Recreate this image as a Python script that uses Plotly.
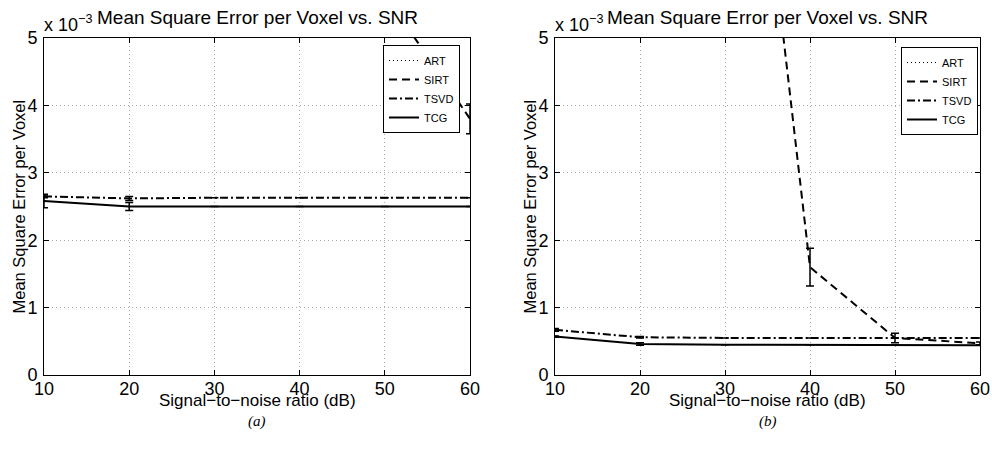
import plotly.graph_objects as go

# Signal-to-noise ratio (dB)
snr = [10, 20, 30, 40, 50, 60]

# Mean square error per voxel, in units of 1e-3
# (a)
art_a = [30.0, 26.0, 23.0, 21.0, 20.0, 19.0]
sirt_a = [15.0, 11.0, 8.5, 7.0, 5.65, 3.8]
tsvd_a = [2.65, 2.62, 2.63, 2.63, 2.63, 2.63]
tcg_a = [2.58, 2.50, 2.50, 2.50, 2.50, 2.50]
art_a_err = [0, 0, 0, 0, 0, 0]
sirt_a_err = [0, 0, 0, 0, 0, 0.22]
tsvd_a_err = [0.02, 0.03, 0, 0, 0, 0]
tcg_a_err = [0.1, 0.06, 0, 0, 0, 0]

# (b)
art_b = [30.0, 26.0, 23.0, 21.0, 20.0, 19.0]
sirt_b = [20.0, 16.0, 12.5, 1.6, 0.55, 0.47]
tsvd_b = [0.67, 0.56, 0.55, 0.55, 0.55, 0.55]
tcg_b = [0.57, 0.46, 0.45, 0.45, 0.44, 0.44]
art_b_err = [0, 0, 0, 0, 0, 0]
sirt_b_err = [0, 0, 0, 0.28, 0.07, 0.02]
tsvd_b_err = [0.02, 0.01, 0, 0, 0, 0]
tcg_b_err = [0.01, 0.02, 0, 0, 0, 0]

names = ["ART", "SIRT", "TSVD", "TCG"]
dashes = ["1px,3px", "8px,5px", "8px,3px,2px,3px", "solid"]
widths = [1.2, 2, 2, 2]

x_ticks = [10, 20, 30, 40, 50, 60]
y_ticks = [0, 1, 2, 3, 4, 5]

title_text = "Mean Square Error per Voxel vs. SNR"
xlabel = "Signal\u2212to\u2212noise ratio (dB)"
ylabel = "Mean Square Error per Voxel"

W, H = 992, 458
FONT = "Liberation Sans, Arial, sans-serif"

fig = go.Figure()

series_a = [(art_a, art_a_err), (sirt_a, sirt_a_err), (tsvd_a, tsvd_a_err), (tcg_a, tcg_a_err)]
series_b = [(art_b, art_b_err), (sirt_b, sirt_b_err), (tsvd_b, tsvd_b_err), (tcg_b, tcg_b_err)]

for series, xa, ya, lg in [(series_a, "x", "y", "legend"), (series_b, "x2", "y2", "legend2")]:
    for name, dash, lw, (vals, err) in zip(names, dashes, widths, series):
        fig.add_trace(go.Scatter(
            x=snr, y=vals, name=name, mode="lines",
            line=dict(color="black", width=lw, dash=dash),
            error_y=dict(type="data", array=err, visible=True, color="black",
                         thickness=1.5, width=4),
            xaxis=xa, yaxis=ya, legend=lg,
        ))

x1 = [44 / W, 470 / W]
x2 = [555 / W, 980 / W]
yd = [1 - 375 / H, 1 - 38 / H]

axis_common = dict(
    showline=True, linecolor="black", linewidth=1, mirror="ticks",
    ticks="inside", ticklen=5, tickcolor="black", tickwidth=1,
    showgrid=True, gridcolor="#a8a8a8", griddash="1px,3px", gridwidth=1,
    zeroline=False, tickfont=dict(family=FONT, size=18, color="black"),
)

fig.update_layout(
    width=W, height=H, template="none",
    paper_bgcolor="white", plot_bgcolor="white",
    margin=dict(l=0, r=0, t=0, b=0),
    xaxis=dict(domain=x1, range=[10, 60], tickvals=x_ticks, anchor="y",
               ticklabelstandoff=-3, **axis_common),
    yaxis=dict(domain=yd, range=[0, 5], tickvals=y_ticks, anchor="x",
               ticklabelstandoff=2, **axis_common),
    xaxis2=dict(domain=x2, range=[10, 60], tickvals=x_ticks, anchor="y2",
                ticklabelstandoff=-3, **axis_common),
    yaxis2=dict(domain=yd, range=[0, 5], tickvals=y_ticks, anchor="x2",
                ticklabelstandoff=2, **axis_common),
    legend=dict(x=460 / W, y=1 - 45 / H, xanchor="right", yanchor="top",
                bgcolor="white", bordercolor="black", borderwidth=1,
                font=dict(family=FONT, size=11, color="black")),
    legend2=dict(x=978 / W, y=1 - 47 / H, xanchor="right", yanchor="top",
                 bgcolor="white", bordercolor="black", borderwidth=1,
                 font=dict(family=FONT, size=11, color="black")),
    showlegend=True,
)

annotations = []
for (dom, cap) in [(x1, "(a)"), (x2, "(b)")]:
    cx = (dom[0] + dom[1]) / 2
    annotations.append(dict(text=title_text, x=cx, y=1 - 18 / H, xref="paper", yref="paper",
                            xanchor="center", yanchor="middle", showarrow=False,
                            font=dict(family=FONT, size=19, color="black")))
    annotations.append(dict(text="x 10<sup>\u22123</sup>", x=dom[0] - 2 / W, y=1 - 37 / H,
                            xref="paper", yref="paper", xanchor="left", yanchor="bottom",
                            showarrow=False, font=dict(family=FONT, size=18, color="black")))
    annotations.append(dict(text=xlabel, x=cx, y=1 - 400 / H, xref="paper", yref="paper",
                            xanchor="center", yanchor="middle", showarrow=False,
                            font=dict(family=FONT, size=17, color="black")))
    annotations.append(dict(text="<i>" + cap + "</i>", x=cx, y=1 - 421 / H, xref="paper",
                            yref="paper", xanchor="center", yanchor="middle", showarrow=False,
                            font=dict(family="Liberation Serif, Times New Roman, serif",
                                      size=15, color="black")))
    annotations.append(dict(text=ylabel, x=(dom[0] * W - 26) / W, y=(yd[0] + yd[1]) / 2,
                            xref="paper", yref="paper", xanchor="center", yanchor="middle",
                            textangle=-90, showarrow=False,
                            font=dict(family=FONT, size=16.5, color="black")))

fig.update_layout(annotations=annotations)

fig.write_html("out.html")
